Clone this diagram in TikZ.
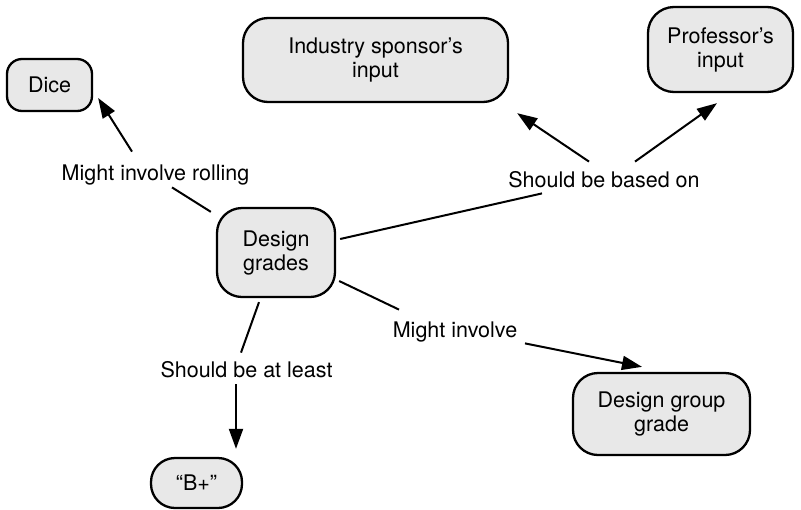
\documentclass[tikz,border=0pt]{standalone}
\usepackage{fontspec}
\setmainfont{TeX Gyre Heros}
\usetikzlibrary{arrows.meta}
\begin{document}
\begin{tikzpicture}[x=0.5pt,y=-0.5pt,
  concept/.style={draw=black, line width=1.15pt, fill=black!9,
    rounded corners=#1, inner sep=0pt, align=center,
    font=\fontsize{10.75pt}{12pt}\selectfont},
  concept/.default=12.5pt,
  phrase/.style={inner sep=0pt, text height=8pt, text depth=2.3pt,
    anchor=base, font=\fontsize{10.75pt}{12pt}\selectfont},
  link/.style={line width=1pt},
  arrowlink/.style={link, -{Triangle[length=10pt,width=7pt]}}]
\useasboundingbox (0,0) rectangle (801,509);

% concepts
\node[concept=7.5pt, minimum width=42.5pt, minimum height=26pt] (dice) at (49.5,85) {Dice};
\node[concept, minimum width=132.5pt, minimum height=42pt] (ind) at (375.5,60) {Industry sponsor’s\\input};
\node[concept=13pt, minimum width=72.5pt, minimum height=42.5pt] (prof) at (720.5,49.5) {Professor’s\\input};
\node[concept, minimum width=59pt, minimum height=44.5pt] (dg) at (276,252.5) {Design\\grades};
\node[concept, minimum width=88.5pt, minimum height=41pt] (dgg) at (661.5,414) {Design group\\grade};
\node[concept=12pt, minimum width=45.5pt, minimum height=25pt] (bp) at (196.5,483) {“B+”};

% linking phrases
\node[phrase] (roll) at (155.5,180) {Might involve rolling};
\node[phrase] (based) at (604,187) {Should be based on};
\node[phrase] (inv) at (455,337) {Might involve};
\node[phrase] (least) at (246.5,377) {Should be at least};

% connectors
\draw[link] ([xshift=-2.5pt,yshift=-2.5pt]dg.north west) -- ([xshift=8.25pt,yshift=-1.2pt]roll.south);
\draw[arrowlink] ([xshift=-11.75pt,yshift=6pt]roll.north) -- ([xshift=2.5pt,yshift=-6.5pt]dice.east);

\draw[link] ([xshift=2pt,yshift=6.75pt]dg.east) -- ([xshift=-31pt,yshift=-0.7pt]based.south);
\draw[arrowlink] ([xshift=-7.5pt,yshift=4.5pt]based.north) -- ([xshift=4pt,yshift=-5pt]ind.south east);
\draw[arrowlink] ([xshift=15.5pt,yshift=4.5pt]based.north) -- ([xshift=-1.75pt,yshift=-5pt]prof.south);

\draw[link] ([xshift=1.5pt,yshift=-14.25pt]dg.east) -- ([xshift=-28pt,yshift=5.5pt]inv.north);
\draw[arrowlink] ([xshift=35pt,yshift=-0.7pt]inv.south) -- ([xshift=-9.75pt,yshift=2.5pt]dgg.north);

\draw[link] ([xshift=-8.5pt,yshift=-2pt]dg.south) -- ([xshift=-2.75pt,yshift=4pt]least.north);
\draw[arrowlink] ([xshift=-5.25pt,yshift=-1.2pt]least.south) -- ([xshift=19.75pt,yshift=4pt]bp.north);
\end{tikzpicture}
\end{document}
